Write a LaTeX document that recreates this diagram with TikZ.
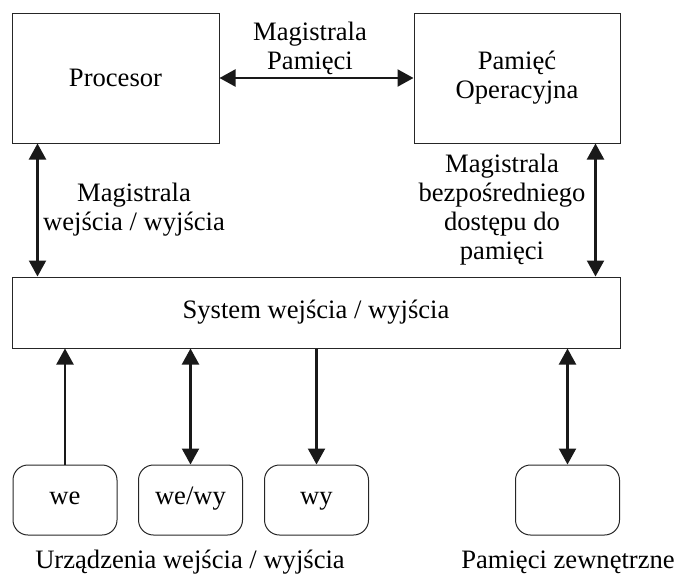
\documentclass[tikz,border=0pt]{standalone}
\usepackage{fontspec}
\setmainfont{Liberation Serif}
\usetikzlibrary{arrows.meta,calc}
\begin{document}
\begin{tikzpicture}[x=1pt,y=-1pt,
  every node/.style={font=\fontsize{26.6}{29}\selectfont, inner sep=0pt},
  box/.style={draw=black!85, line width=1pt, align=center},
  dev/.style={box, rounded corners=15pt, minimum width=104pt, minimum height=70pt, text height=17pt, text depth=8pt},
  lbl/.style={align=center},
  arr/.style={line width=2.2pt, black!90, {Triangle[length=16pt,width=17pt]}-{Triangle[length=16pt,width=17pt]}},
  arrf/.style={line width=2.2pt, black!90, -{Triangle[length=16pt,width=17pt]}}
]
\useasboundingbox (0,0) rectangle (677,574);
% main boxes
\node[box, minimum width=207pt, minimum height=130pt, text height=17pt, text depth=1pt] (proc) at (115.5,78) {Procesor};
\node[box, minimum width=206pt, minimum height=130pt] (pam) at (517,78) {Pamięć\\Operacyjna};
\node[box, minimum width=608pt, minimum height=71pt] (sys) at (316,312.5) {System wejścia / wyjścia};
% devices
\node[dev] (we) at (65,500) {we};
\node[dev] (wewy) at (190.5,500) {we/wy};
\node[dev] (wy) at (316.5,500) {wy};
\node[dev] (pz) at (567.5,500) {};
% connectors
\draw[arr] (proc.east) -- (pam.west);
\draw[arr] ([xshift=26pt]proc.south west) -- ([xshift=26pt]sys.north west);
\draw[arr] ([xshift=-25pt]pam.south east) -- ([xshift=-25pt]sys.north east);
\draw[arrf] (we.north) -- (we.north |- sys.south);
\draw[arr] (wewy.north) -- (wewy.north |- sys.south);
\draw[arrf] (sys.south -| wy.north) -- (wy.north);
\draw[arr] (pz.north) -- (pz.north |- sys.south);
% labels
\node[lbl] (lmem) at (310,48) {Magistrala\\Pamięci};
\node[lbl] (lio) at (134,210) {Magistrala\\wejścia / wyjścia};
\node[lbl] (ldma) at (502,210) {Magistrala\\bezpośredniego\\dostępu do\\pamięci};
\node[lbl, anchor=base] (lurz) at (190,568) {Urządzenia wejścia / wyjścia};
\node[lbl, anchor=base] (lpz) at (568,568) {Pamięci zewnętrzne};
\end{tikzpicture}
\end{document}
